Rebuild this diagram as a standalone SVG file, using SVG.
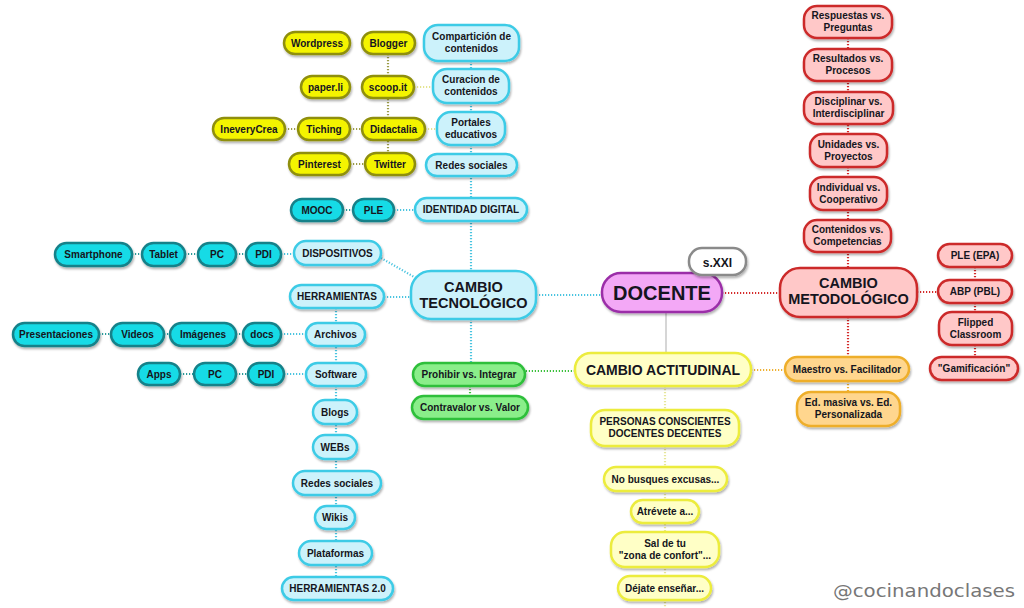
<svg xmlns="http://www.w3.org/2000/svg" width="1024" height="608" viewBox="0 0 1024 608">
<defs>
<filter id="sh" x="-15%" y="-30%" width="130%" height="170%">
<feDropShadow dx="1" dy="2" stdDeviation="1.2" flood-color="#000" flood-opacity="0.3"/>
</filter>
<style>
rect{stroke-width:2.5;filter:url(#sh)}
.y{fill:#f4f400;stroke:#8f8f10}
.c{fill:#14dbe6;stroke:#148189}
.lb{fill:#ccf2fb;stroke:#3ccbe6}
.g{fill:#8aee8a;stroke:#2fbf3a}
.p{fill:#f3a8f6;stroke:#9b2fa8}
.r{fill:#ffc8c8;stroke:#cc2a2a}
.o{fill:#ffd68e;stroke:#eeae2a}
.ly{fill:#ffffc6;stroke:#ecec3c}
.w{fill:#ffffff;stroke:#8a8a8a}
text{font-family:"Liberation Sans",Arial,sans-serif;font-weight:bold;font-size:10px;fill:#151520;text-anchor:middle}
.big{font-size:14.5px}
.hd{font-size:14px}
.doc{font-size:20px}
.sx{font-size:12px}
.wm{font-family:"Comic Sans MS","DejaVu Sans",cursive;font-weight:normal;font-size:18px;fill:#777;text-anchor:start}
.d{fill:none;stroke-width:2.2;stroke-dasharray:1.2 1.8}
.dy{stroke:#9c9c48}.dfy{stroke:#e4e490}.dlb{stroke:#49c4e0}.dc{stroke:#2a9a9a}
.dr{stroke:#d42a2a}.dg{stroke:#3cc03c}.do{stroke:#eeb030}.dly{stroke:#e6e69a}
.sg{fill:none;stroke:#d6d6d6;stroke-width:2}
</style>
</defs>
<rect x="0" y="0" width="1024" height="608" fill="#ffffff" style="filter:none;stroke:none"/>
<g id="connectors">
<path class="d dy" d="M388 54V153M285 129H298M350 129H362M350 164H365"/>
<path class="d dfy" d="M414 87H433M425 129H437"/>
<path class="d dlb" d="M471 61V271M471 319V363M394 210H415M381 258L416 278M384 297H411M336 308V577M536 295H602M281 254H294M281 334H306M284 374H306"/>
<path class="d dc" d="M343 210H353M132 254H142M185 254H198M236 254H246M99 334H111M164 334H170M236 334H243M180 374H194M236 374H248"/>
<path class="d dr" d="M722 293H780M848 38V268M848 317V357M917 292H938M975 267V357"/>
<path class="d dg" d="M575 371H525M470 386V396"/>
<path class="d do" d="M751 370H785M848 381V392"/>
<path class="d dly" d="M665 386V608"/>
<path class="sg" d="M666 312V353"/>
</g>
<g id="wordpress"><rect class="y" x="284" y="32" width="66" height="22" rx="11"/><text x="317" y="46.7">Wordpress</text></g>
<g id="blogger"><rect class="y" x="362" y="32" width="53" height="22" rx="11"/><text x="388.5" y="46.7">Blogger</text></g>
<g id="paperli"><rect class="y" x="301" y="76" width="49" height="22" rx="11"/><text x="325.5" y="90.7">paper.li</text></g>
<g id="scoopit"><rect class="y" x="362" y="76" width="52" height="22" rx="11"/><text x="388" y="90.7">scoop.it</text></g>
<g id="ineverycrea"><rect class="y" x="213" y="118" width="72" height="22" rx="11"/><text x="249" y="132.7">IneveryCrea</text></g>
<g id="tiching"><rect class="y" x="298" y="118" width="52" height="22" rx="11"/><text x="324" y="132.7">Tiching</text></g>
<g id="didactalia"><rect class="y" x="362" y="118" width="63" height="22" rx="11"/><text x="393.5" y="132.7">Didactalia</text></g>
<g id="pinterest"><rect class="y" x="289" y="153" width="61" height="22" rx="11"/><text x="319.5" y="167.7">Pinterest</text></g>
<g id="twitter"><rect class="y" x="365" y="153" width="50" height="22" rx="11"/><text x="390" y="167.7">Twitter</text></g>
<g id="comparticion"><rect class="lb" x="424" y="25" width="95" height="36" rx="14"/><text x="471.5" y="40">Compartición de</text><text x="471.5" y="52">contenidos</text></g>
<g id="curacion"><rect class="lb" x="433" y="69" width="76" height="34" rx="14"/><text x="471" y="83">Curacion de</text><text x="471" y="95">contenidos</text></g>
<g id="portales"><rect class="lb" x="437" y="112" width="68" height="33" rx="14"/><text x="471" y="125.5">Portales</text><text x="471" y="137.5">educativos</text></g>
<g id="redes1"><rect class="lb" x="426" y="154" width="91" height="22" rx="11"/><text x="471.5" y="168.7">Redes sociales</text></g>
<g id="identidad"><rect class="lb" x="415" y="198" width="112" height="23" rx="11.5"/><text x="471" y="213.2">IDENTIDAD DIGITAL</text></g>
<g id="mooc"><rect class="c" x="291" y="199" width="52" height="22" rx="11"/><text x="317" y="213.7">MOOC</text></g>
<g id="ple1"><rect class="c" x="353" y="199" width="41" height="22" rx="11"/><text x="373.5" y="213.7">PLE</text></g>
<g id="dispositivos"><rect class="lb" x="294" y="241" width="87" height="24" rx="12"/><text x="337.5" y="256.7">DISPOSITIVOS</text></g>
<g id="smartphone"><rect class="c" x="55" y="243" width="77" height="23" rx="11.5"/><text x="93.5" y="258.2">Smartphone</text></g>
<g id="tablet"><rect class="c" x="142" y="243" width="43" height="23" rx="11.5"/><text x="163.5" y="258.2">Tablet</text></g>
<g id="pc1"><rect class="c" x="198" y="243" width="38" height="23" rx="11.5"/><text x="217" y="258.2">PC</text></g>
<g id="pdi1"><rect class="c" x="246" y="243" width="35" height="23" rx="11.5"/><text x="263.5" y="258.2">PDI</text></g>
<g id="herramientas"><rect class="lb" x="290" y="285" width="94" height="23" rx="11.5"/><text x="337" y="300.2">HERRAMIENTAS</text></g>
<g id="archivos"><rect class="lb" x="306" y="323" width="59" height="23" rx="11.5"/><text x="335.5" y="338.2">Archivos</text></g>
<g id="presentaciones"><rect class="c" x="13" y="323" width="86" height="23" rx="11.5"/><text x="56" y="338.2">Presentaciones</text></g>
<g id="videos"><rect class="c" x="111" y="323" width="53" height="23" rx="11.5"/><text x="137.5" y="338.2">Videos</text></g>
<g id="imagenes"><rect class="c" x="170" y="323" width="66" height="23" rx="11.5"/><text x="203" y="338.2">Imágenes</text></g>
<g id="docs"><rect class="c" x="243" y="323" width="38" height="23" rx="11.5"/><text x="262" y="338.2">docs</text></g>
<g id="software"><rect class="lb" x="306" y="363" width="60" height="23" rx="11.5"/><text x="336" y="378.2">Software</text></g>
<g id="apps"><rect class="c" x="138" y="363" width="42" height="22" rx="11"/><text x="159" y="377.7">Apps</text></g>
<g id="pc2"><rect class="c" x="194" y="363" width="42" height="22" rx="11"/><text x="215" y="377.7">PC</text></g>
<g id="pdi2"><rect class="c" x="248" y="363" width="36" height="22" rx="11"/><text x="266" y="377.7">PDI</text></g>
<g id="blogs"><rect class="lb" x="313" y="400" width="44" height="24" rx="12"/><text x="335" y="415.7">Blogs</text></g>
<g id="webs"><rect class="lb" x="313" y="435" width="44" height="24" rx="12"/><text x="335" y="450.7">WEBs</text></g>
<g id="redes2"><rect class="lb" x="293" y="471" width="88" height="24" rx="12"/><text x="337" y="486.7">Redes sociales</text></g>
<g id="wikis"><rect class="lb" x="315" y="506" width="40" height="23" rx="11.5"/><text x="335" y="521.2">Wikis</text></g>
<g id="plataformas"><rect class="lb" x="299" y="541" width="73" height="24" rx="12"/><text x="335.5" y="556.7">Plataformas</text></g>
<g id="herramientas20"><rect class="lb" x="282" y="577" width="111" height="23" rx="11.5"/><text x="337.5" y="592.2">HERRAMIENTAS 2.0</text></g>
<g id="cambio-tecnologico"><rect class="lb" x="411" y="271" width="125" height="48" rx="20"/><text class="big" x="473.5" y="291.5">CAMBIO</text><text class="big" x="473.5" y="307.5">TECNOLÓGICO</text></g>
<g id="prohibir"><rect class="g" x="413" y="363" width="112" height="23" rx="11.5"/><text x="469" y="378.2">Prohibir vs. Integrar</text></g>
<g id="contravalor"><rect class="g" x="412" y="396" width="116" height="23" rx="11.5"/><text x="470" y="411.2">Contravalor vs. Valor</text></g>
<g id="docente"><rect class="p" x="602" y="273" width="120" height="39" rx="19"/><text class="doc" x="662" y="300">DOCENTE</text></g>
<g id="sxxi"><rect class="w" x="689" y="248" width="57" height="27" rx="13"/><text class="sx" x="717.5" y="266.5">s.XXI</text></g>
<g id="cambio-metodologico"><rect class="r" x="780" y="268" width="137" height="49" rx="20"/><text class="big" x="848.5" y="288">CAMBIO</text><text class="big" x="848.5" y="304">METODOLÓGICO</text></g>
<g id="respuestas"><rect class="r" x="804" y="6" width="88" height="32" rx="13"/><text x="848" y="19">Respuestas vs.</text><text x="848" y="31">Preguntas</text></g>
<g id="resultados"><rect class="r" x="804" y="49" width="88" height="32" rx="13"/><text x="848" y="62">Resultados vs.</text><text x="848" y="74">Procesos</text></g>
<g id="disciplinar"><rect class="r" x="804" y="92" width="89" height="32" rx="13"/><text x="848.5" y="105">Disciplinar vs.</text><text x="848.5" y="117">Interdisciplinar</text></g>
<g id="unidades"><rect class="r" x="810" y="134" width="77" height="33" rx="13"/><text x="848.5" y="147.5">Unidades vs.</text><text x="848.5" y="159.5">Proyectos</text></g>
<g id="individual"><rect class="r" x="810" y="177" width="77" height="33" rx="13"/><text x="848.5" y="190.5">Individual vs.</text><text x="848.5" y="202.5">Cooperativo</text></g>
<g id="contenidos"><rect class="r" x="804" y="220" width="87" height="32" rx="13"/><text x="847.5" y="233">Contenidos vs.</text><text x="847.5" y="245">Competencias</text></g>
<g id="ple-epa"><rect class="r" x="938" y="244" width="74" height="23" rx="11.5"/><text x="975" y="259.2">PLE (EPA)</text></g>
<g id="abp"><rect class="r" x="938" y="280" width="74" height="23" rx="11.5"/><text x="975" y="295.2">ABP (PBL)</text></g>
<g id="flipped"><rect class="r" x="939" y="312" width="73" height="33" rx="13"/><text x="975.5" y="325.5">Flipped</text><text x="975.5" y="337.5">Classroom</text></g>
<g id="gamificacion"><rect class="r" x="930" y="357" width="88" height="23" rx="11.5"/><text x="974" y="372.2">"Gamificación"</text></g>
<g id="maestro"><rect class="o" x="785" y="357" width="124" height="24" rx="12"/><text x="847" y="372.7">Maestro vs. Facilitador</text></g>
<g id="edmasiva"><rect class="o" x="797" y="392" width="103" height="34" rx="14"/><text x="848.5" y="406">Ed. masiva vs. Ed.</text><text x="848.5" y="418">Personalizada</text></g>
<g id="cambio-actitudinal"><rect class="ly" x="575" y="353" width="176" height="33" rx="16"/><text class="hd" x="663" y="375">CAMBIO ACTITUDINAL</text></g>
<g id="personas"><rect class="ly" x="591" y="410" width="148" height="36" rx="14"/><text x="665" y="425">PERSONAS CONSCIENTES</text><text x="665" y="437">DOCENTES DECENTES</text></g>
<g id="nobusques"><rect class="ly" x="604" y="467" width="123" height="24" rx="12"/><text x="665.5" y="482.7">No busques excusas...</text></g>
<g id="atrevete"><rect class="ly" x="631" y="500" width="68" height="23" rx="11.5"/><text x="665" y="515.2">Atrévete a...</text></g>
<g id="saldetu"><rect class="ly" x="611" y="532" width="108" height="35" rx="14"/><text x="665" y="546.5">Sal de tu</text><text x="665" y="558.5">"zona de confort"...</text></g>
<g id="dejate"><rect class="ly" x="618" y="576" width="93" height="24" rx="12"/><text x="664.5" y="591.7">Déjate enseñar...</text></g>
<text class="wm" x="833" y="597" textLength="182" lengthAdjust="spacingAndGlyphs">@cocinandoclases</text>
</svg>
